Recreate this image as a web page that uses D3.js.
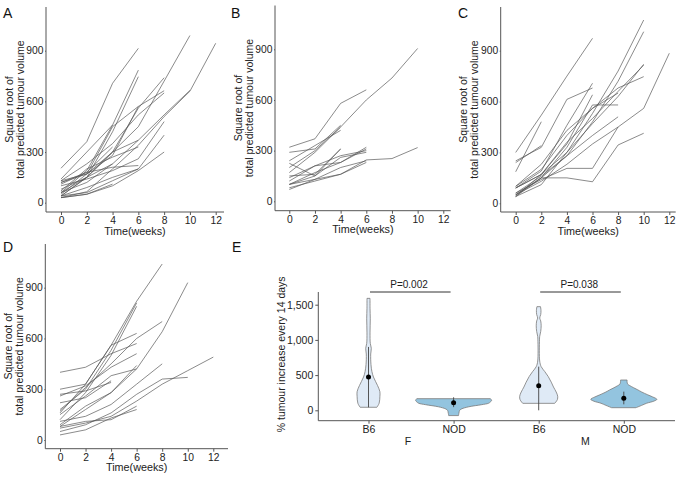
<!DOCTYPE html>
<html><head><meta charset="utf-8">
<script src="https://cdn.jsdelivr.net/npm/d3@7"></script>
<style>
body{margin:0;background:#fff}
svg{display:block}
text{font-family:"Liberation Sans",Arial,sans-serif}
</style>
</head><body>
<svg id="c" width="700" height="482"></svg>
<script>
// ---------- data ----------
const weeks = [0, 2, 4, 6, 8, 10, 12];
const xTicks = [0, 2, 4, 6, 8, 10, 12];
const yTicks = [0, 300, 600, 900];

// square root of total predicted tumour volume per mouse (values at weeks 0,2,4,...)
const panelA = [
  [204, 361, 707, 914],
  [40, 150, 300, 450, 720, 990],
  [30, 65, 200, 340, 510, 660, 944],
  [60, 120, 230, 370, 520, 665],
  [60, 190, 460, 785],
  [40, 150, 420, 746],
  [120, 170, 300, 560, 740],
  [50, 170, 450, 570, 663],
  [130, 230, 350, 520, 650],
  [40, 60, 130, 200, 400],
  [30, 50, 100, 190, 300],
  [130, 170, 280, 570],
  [80, 150, 300, 370],
  [110, 180, 210, 220],
  [40, 90, 150, 200],
  [60, 150, 230],
  [30, 50, 110],
  [140, 300, 460],
  [120, 180, 330],
  [100, 140, 190, 260, 480],
  [70, 200, 270, 330]
];
const panelB = [
  [320, 370, 580, 660],
  [170, 290, 440, 600, 730, 905],
  [290, 310, 450],
  [200, 300, 440],
  [240, 330, 420],
  [100, 130, 160, 245, 253, 318],
  [140, 210, 270, 300],
  [120, 210, 230, 320],
  [225, 150, 310],
  [100, 170, 230, 310],
  [70, 130, 200, 240],
  [80, 120, 160, 230],
  [150, 160, 310],
  [100, 150, 260, 290]
];
const panelC = [
  [300, 520, 750, 973],
  [186, 481],
  [240, 340],
  [250, 330, 613, 680],
  [90, 190, 460, 708],
  [90, 170, 350, 640],
  [40, 150, 330, 580, 580],
  [40, 110, 300, 530, 780, 1081],
  [50, 150, 280, 480, 720, 1012],
  [90, 170, 360, 500, 660, 815],
  [40, 170, 300, 470, 630, 820],
  [100, 230, 430, 560, 680, 747],
  [50, 130, 230, 350, 450, 560, 885],
  [60, 140, 206, 206, 450],
  [50, 150, 150, 127, 344, 413],
  [60, 160, 280, 400, 510],
  [100, 200, 400, 560, 650]
];
const panelD = [
  [400, 430, 510, 570],
  [160, 330, 560, 820, 1040],
  [180, 300, 530, 810],
  [120, 280, 500, 790],
  [80, 180, 280, 420, 640, 930],
  [170, 310, 450, 600, 700],
  [300, 330, 560, 630],
  [260, 320, 430, 510],
  [220, 250, 350],
  [270, 290, 340],
  [90, 200, 280, 440],
  [110, 140, 210, 330, 450],
  [70, 100, 140, 230, 330, 410, 490],
  [50, 90, 160, 270, 360, 370],
  [30, 60, 130, 180],
  [80, 110, 120, 200],
  [150, 260, 380, 420]
];

// panel E: violins of % tumour increase every 14 days
const groups = ["F-B6", "F-NOD", "M-B6", "M-NOD"];
const groupLabels = ["B6", "NOD", "B6", "NOD"];
const sexLabels = ["F", "M"];
const eTicks = [0, 500, 1000, 1500];
// density profiles: [value, relative density 0-100]
const densFB6 = [[43,22],[100,28],[200,30],[264,30],[350,24],[473,13],[550,9],[650,6.5],[800,5.8],[880,7.4],[950,4.7],[1100,4],[1300,4.7],[1450,4],[1590,4]];
const densFNOD = [[-75,13],[-40,14],[0,16],[20,21],[50,40],[80,74],[100,92],[120,97],[140,100],[165,97]];
const densMB6 = [[99,42],[150,49],[200,50],[260,46],[330,39],[400,33],[480,25],[550,16],[620,6.5],[700,2.6],[1000,2.1],[1050,2.6],[1120,5.3],[1200,6.5],[1270,5.3],[1310,2.6],[1360,5.3],[1420,6],[1472,4.7]];
const densMNOD = [[37,32],[70,47],[100,60],[130,79],[156,87],[190,76],[220,63],[260,47],[290,37],[320,26],[350,16],[370,10.5],[400,8.7],[430,8.7]];
const means = [473, 108, 350, 170];
const errLow = [43, 45, 0, 85];
const errHigh = [900, 185, 620, 265];
const pValues = ["P=0.002", "P=0.038"];

// ---------- drawing ----------
const svg = d3.select("#c");
const lineColor = "#555";
const axisColor = "#555";
const textColor = "#222";
const FONT = '"Liberation Sans",Arial,sans-serif';

function styleAxis(a, size) {
  a.select(".domain").remove();
  a.selectAll("line").attr("stroke", axisColor);
  a.selectAll("text").attr("fill", textColor).style("font-size", size).style("font-family", FONT);
}

function linePanel(data, L, letter) {
  const x = d3.scaleLinear().domain([0, 12]).range([L.x0, L.x12]);
  const y = d3.scaleLinear().domain([0, 900]).range([L.y0, L.y900]);
  const g = svg.append("g");
  const line = d3.line().x((d, i) => x(weeks[i])).y(d => y(d));
  g.selectAll("path.s").data(data).join("path")
    .attr("class", "s").attr("d", line)
    .attr("fill", "none").attr("stroke", lineColor)
    .attr("stroke-width", 0.95).attr("stroke-opacity", 0.72);

  const xa = g.append("g").attr("transform", `translate(0,${L.bottom})`)
    .call(d3.axisBottom(x).tickValues(xTicks).tickSize(3).tickPadding(1.5));
  const ya = g.append("g").attr("transform", `translate(${L.left},0)`)
    .call(d3.axisLeft(y).tickValues(yTicks).tickSize(1).tickPadding(1.5));
  styleAxis(xa, "10.3px");
  styleAxis(ya, "10.3px");
  g.append("line").attr("x1", L.left).attr("x2", L.right).attr("y1", L.bottom).attr("y2", L.bottom)
    .attr("stroke", axisColor).attr("stroke-width", 1);
  g.append("line").attr("x1", L.left).attr("x2", L.left).attr("y1", L.top).attr("y2", L.bottom)
    .attr("stroke", axisColor).attr("stroke-width", 1);

  g.append("text").attr("x", (L.left + L.right) / 2).attr("y", L.bottom + 22.5)
    .attr("text-anchor", "middle").attr("fill", textColor).style("font-size", "10.8px").text("Time(weeks)");
  const cy = (L.top + L.bottom) / 2;
  g.append("text").attr("transform", `translate(${L.left - 33.5},${cy}) rotate(-90)`)
    .attr("text-anchor", "middle").attr("fill", textColor).style("font-size", "10.5px").text("Square root of");
  g.append("text").attr("transform", `translate(${L.left - 22.5},${cy}) rotate(-90)`)
    .attr("text-anchor", "middle").attr("fill", textColor).style("font-size", "10.5px").text("total predicted tumour volume");
  svg.append("text").attr("x", L.lx).attr("y", L.ly).attr("fill", "#111")
    .style("font-size", "14px").text(letter);
}

linePanel(panelA, {x0: 61, x12: 215.7, y0: 202.7, y900: 50.7, left: 46, right: 224, top: 7, bottom: 212, lx: 3, ly: 18}, "A");
linePanel(panelB, {x0: 289.3, x12: 443.3, y0: 201.3, y900: 49.3, left: 275, right: 450.7, top: 5.5, bottom: 210.7, lx: 231, ly: 18}, "B");
linePanel(panelC, {x0: 515.7, x12: 669.3, y0: 203.3, y900: 50.7, left: 500.7, right: 675.7, top: 7, bottom: 212, lx: 458, ly: 18}, "C");
linePanel(panelD, {x0: 60, x12: 213.3, y0: 440, y900: 287.7, left: 45.3, right: 228, top: 244, bottom: 448.7, lx: 3, ly: 252}, "D");

// ---------- panel E ----------
(function () {
  const E = {left: 318.3, right: 675, top: 292, bottom: 420.7};
  const x = d3.scalePoint().domain(groups).range([368.5, 623.8]);
  const y = d3.scaleLinear().domain([0, 1500]).range([410.3, 304.7]);
  const w = d3.scaleLinear().domain([0, 100]).range([0, 38]);
  const g = svg.append("g");
  const profiles = [densFB6, densFNOD, densMB6, densMNOD];
  const fills = ["#dfeaf6", "#93c4df", "#dfeaf6", "#93c4df"];
  profiles.forEach((p, i) => {
    const cx = x(groups[i]);
    const area = d3.area().curve(d3.curveCatmullRom.alpha(0.5))
      .y(d => y(d[0])).x0(d => cx - w(d[1])).x1(d => cx + w(d[1]));
    g.append("path").attr("d", area(p)).attr("fill", fills[i])
      .attr("stroke", "#7a7a7a").attr("stroke-width", 0.8);
    g.append("line").attr("x1", cx).attr("x2", cx).attr("y1", y(errLow[i])).attr("y2", y(errHigh[i]))
      .attr("stroke", "#444").attr("stroke-width", 0.9);
    g.append("circle").attr("cx", cx).attr("cy", y(means[i])).attr("r", 2.5).attr("fill", "#000");
  });

  const xa = g.append("g").attr("transform", `translate(0,${E.bottom})`)
    .call(d3.axisBottom(x).tickSize(3).tickPadding(1.8).tickFormat((d, i) => groupLabels[i]));
  const ya = g.append("g").attr("transform", `translate(${E.left},0)`)
    .call(d3.axisLeft(y).tickValues(eTicks).tickSize(3).tickPadding(2).tickFormat(d3.format(",")));
  styleAxis(xa, "10.5px");
  styleAxis(ya, "10.5px");
  g.append("line").attr("x1", E.left).attr("x2", E.right).attr("y1", E.bottom).attr("y2", E.bottom)
    .attr("stroke", axisColor);
  g.append("line").attr("x1", E.left).attr("x2", E.left).attr("y1", E.top).attr("y2", E.bottom)
    .attr("stroke", axisColor);

  [[0, 1], [2, 3]].forEach((pair, k) => {
    const mx = (x(groups[pair[0]]) + x(groups[pair[1]])) / 2;
    g.append("text").attr("x", mx + (k === 0 ? -3 : 4)).attr("y", 444.5).attr("text-anchor", "middle")
      .attr("fill", textColor).style("font-size", "10.5px").text(sexLabels[k]);
    g.append("line").attr("x1", x(groups[pair[0]]) + 1.5).attr("x2", x(groups[pair[1]]) - 3)
      .attr("y1", 292).attr("y2", 292).attr("stroke", "#333").attr("stroke-width", 1);
    g.append("text").attr("x", mx - 2).attr("y", 288).attr("text-anchor", "middle")
      .attr("fill", textColor).style("font-size", "10px").text(pValues[k]);
  });

  g.append("text").attr("transform", `translate(${E.left - 33},${(E.top + E.bottom) / 2 - 2}) rotate(-90)`)
    .attr("text-anchor", "middle").attr("fill", textColor).style("font-size", "10.5px")
    .text("% tumour increase every 14 days");
  svg.append("text").attr("x", 232).attr("y", 252).attr("fill", "#111").style("font-size", "14px").text("E");
})();
</script>
</body></html>
